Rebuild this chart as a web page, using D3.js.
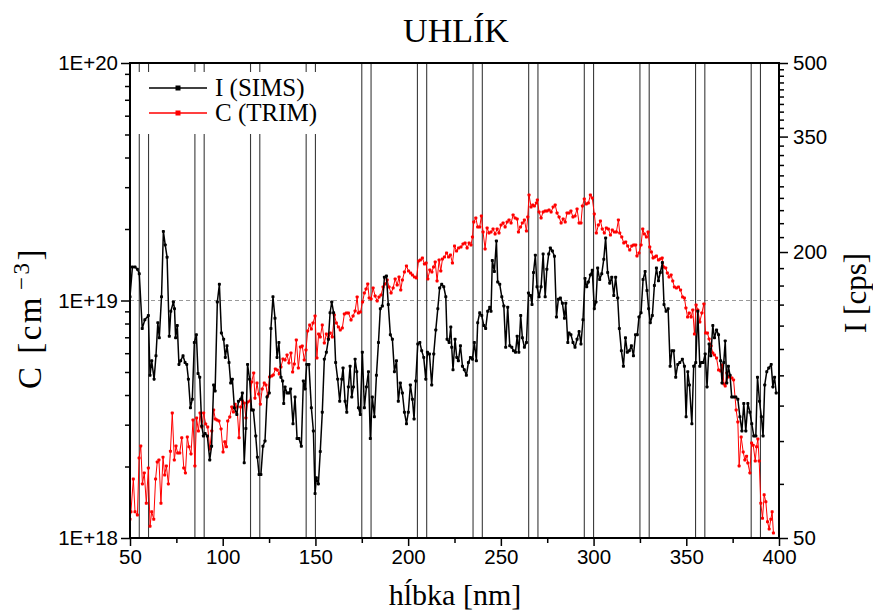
<!DOCTYPE html>
<html>
<head>
<meta charset="utf-8">
<script src="https://cdn.jsdelivr.net/npm/d3@7"></script>
<style>
  body { margin: 0; background: #fff; }
  svg { display: block; }
</style>
</head>
<body>
<svg id="chart" width="873" height="612"></svg>
<script>
// ---- data ----------------------------------------------------------------
const titleText = "UHLÍK";
const seriesNames = ["I (SIMS)", "C (TRIM)"];

const depthMajorTicks = [50, 100, 150, 200, 250, 300, 350, 400];
const depthMinorTicks = [75, 125, 175, 225, 275, 325, 375];
const concMajorTicks = [1e18, 1e19, 1e20];
const concTickLabels = ["1E+18", "1E+19", "1E+20"];
const countMajorTicks = [50, 200, 350, 500];
const countMinorStep = 15;

// depths of the vertical reference marks (nm)
const markDepths = [55, 60, 85, 90, 115, 120, 145, 150, 175, 180, 205, 210,
                    235, 240, 265, 270, 295, 300, 325, 330, 355, 360, 385, 390];
const refConcentration = 1e19;

// SIMS intensity profile: depth (nm) and counts per second
const simsDepth = [50,51.3,52.7,54,55,56.6,58,59.9,60.8,61.7,63,64,65,65.8,67,68,69,70,71.2,72,73.4,74,74.6,75.5,76.4,77.3,78.6,79.7,80.6,81.5,82.6,83.6,84.7,85.8,86.7,87.6,88.7,89.6,90.5,91.7,93,94,95.1,95.9,97.1,98.2,99.3,100.5,101.4,102.3,103.4,104.3,105.2,106.3,107.6,108.5,109.7,110.6,111.6,112.5,113.4,114.5,115.6,116.5,117.8,118.7,119.6,120.6,121.7,122.8,123.9,125.1,126,127.1,128.2,129.3,130.3,131.4,132.3,132.9,133.6,134.7,135.7,136.6,137.9,139,140.1,141.1,142.4,143.5,144.4,145.3,146.5,147.8,148.9,149.8,150.5,151.6,152.6,153.7,154.8,155.9,157,157.9,158.8,159.8,160.9,162,163.1,164.2,164.9,166,166.9,167.8,168.7,169.6,170.5,171.4,172.3,173.2,174.2,175.3,176.4,177.5,178.6,179.6,180.7,181.8,182.9,184,185,186.1,187.2,188.3,189.3,190.4,191.5,192.6,193.7,194.7,195.8,196.9,198,199.1,200.1,201.2,202.3,203.2,204.1,205.2,206.3,207.3,208.4,209.5,210.4,211.5,212.7,213.8,214.9,216,217,218.1,219.2,220.3,221,222.1,223,223.5,224.2,225.3,226.2,227.1,228.2,229.3,230.3,231.4,232.5,233.6,234.7,235.7,236.8,237.5,238.6,239.7,240.8,241.8,242.9,244,244.7,245.4,246.5,247.6,248.3,249.4,250.5,251.6,252.6,253.7,254.8,255.9,256.8,257.9,258.8,259.7,260.7,261.6,262.7,263.8,264.9,266,266.8,267.6,268.6,269.5,270.6,271.7,272.8,273.9,274.8,275.8,276.7,277.8,278.9,280,281,282.1,283.2,284.3,285,286.1,286.8,287.8,288.9,290,291.1,292.2,293.2,294.3,295.4,296.3,297.2,298.3,299.3,300.4,301.3,302.2,303.3,304.4,305.5,306.5,307.6,308.7,309.8,310.9,311.9,313,313.9,315,316.1,317.2,318.2,319.3,320.4,321.5,322.6,323.6,324.5,325.6,326.7,327.8,328.8,329.7,330.6,331.7,332.8,333.9,335,336,337.1,338,339.1,340.2,341.3,342.2,343.2,344.3,345.4,346.5,347.9,349,349.9,350.8,351.7,353,354,355.1,356.2,357.3,358.2,359.1,360.2,361.2,362.3,363.2,364.3,365.2,366.3,367.4,368.5,369.3,370.2,371,371.8,372.7,373.6,374.5,375.6,376.7,377.8,378.9,380,381,382.1,383.2,384.3,385.3,386.4,387.5,388.4,389.5,390.5,391.4,392.3,393.4,394.5,395.8,396.7,397.6,398.5];
const simsI = [161,186,186,184,180,138,144,147,110,118,108,121,142,132,161,221,207,195,133,150,157,152,132,140,116,118,121,117,116,108,94,98,129,134,111,109,86,82,83,82,73,78,105,102,157,171,135,131,120,127,117,106,108,94,91,97,98,101,72,85,116,108,93,93,82,74,68,68,78,80,99,101,138,161,145,120,129,109,107,96,104,101,101,103,87,99,81,81,78,107,103,116,116,94,84,62,67,65,76,92,119,123,131,149,157,149,117,108,97,108,114,97,92,104,115,99,104,119,112,94,91,123,94,104,112,81,99,90,110,129,152,154,177,178,155,134,131,112,118,97,106,101,92,87,92,105,98,89,107,128,129,124,120,108,123,122,105,122,137,152,168,171,169,161,131,129,139,126,113,131,120,118,127,115,113,110,117,120,119,129,118,142,149,147,140,138,150,153,150,192,182,211,173,171,161,154,126,153,127,126,124,123,133,123,147,132,126,129,164,162,155,181,197,169,161,169,198,161,184,198,204,201,196,146,159,160,156,145,156,129,135,134,129,126,131,136,128,144,176,169,173,179,183,152,157,185,175,180,193,214,181,172,177,162,177,160,138,124,115,132,123,124,127,121,134,134,146,149,175,182,166,152,142,147,170,185,174,181,190,155,150,152,115,124,124,109,116,117,119,115,90,112,105,87,115,117,150,115,117,117,122,104,128,121,140,132,137,134,118,106,117,130,106,115,110,99,99,99,98,90,84,96,84,96,92,87,82,82,109,97,90,82,105,112,114,116,104,109,101];

// TRIM concentration profile: depth (nm) and C in units of 1E+18 cm^-3
const trimDepth = [50,50.5,51.8,52.7,54,54.9,55.8,56.7,57.7,58.8,59.9,60.8,61.7,62.8,63.8,64.7,65.6,66.7,67.8,68.7,69.6,70.7,71.8,72.8,73.9,74.8,75.7,76.8,77.9,79,79.9,80.9,81.8,82.9,84,85,85.9,86.9,87.8,88.7,89.7,90.8,91.9,93,94.1,95.1,96,96.9,98,99.1,100.2,101.1,102,102.7,103.8,104.9,105.8,106.7,107.7,108.8,109.7,110.6,111.6,112.5,113.4,114.7,115.6,116.7,117.4,118.5,119.4,120.3,121.3,122.4,123.3,124.2,125.3,126.4,127.3,128.4,129.4,130.5,131.4,132.5,133.6,134.7,135.7,136.8,137.7,138.6,139.7,140.8,141.9,142.9,144,144.9,145.8,146.9,147.8,148.7,149.8,150.8,151.7,152.6,153.7,154.8,155.9,157,158,159.1,160.2,161.3,162.4,163.4,164.5,165.6,166.7,167.8,169.2,170.3,171.4,172.5,173.2,174.3,175.4,176.4,177.3,178.2,179,180,181.1,182.2,183.3,184.3,185.4,186.5,187.6,188.7,189.7,190.8,191.9,193,194.1,195.1,196,196.9,198,199.1,200.2,201.3,202.3,203.4,204.5,205.6,206.6,207.7,208.8,209.7,210.6,211.7,212.8,213.7,214.6,215.6,216.7,217.6,218.5,219.6,220.7,221.8,222.8,223.9,225,226.1,227.2,228.5,229.6,230.7,231.8,232.9,233.9,234.7,235.4,236.5,237.5,238.6,239.5,240.4,241.5,242.6,243.6,244.7,245.8,246.9,248,249,250.1,251.2,252.3,253.4,254.4,255.5,256.6,257.7,258.8,259.5,260.6,261.6,262.7,263.8,264.5,265.2,266.3,267.2,268.1,269.2,269.7,270.6,271.7,272.8,273.9,274.9,276,277.1,278.2,279.3,280.3,281.4,282.5,283.6,284.7,285.7,286.8,287.8,288.9,290,291.1,292.2,293.2,294,295,296.1,297.2,298.3,299.3,300.4,301.5,302.6,303.7,304.7,305.8,306.9,308,309.1,310.1,311.2,312.3,313.4,314.1,315.2,316.3,317.3,318.4,319.5,320.6,321.6,322.7,323.4,324.5,325.6,326.5,327.4,328.5,329.4,330.3,331.2,332.1,333,333.9,335,336,337,337.8,338.9,339.8,340.7,341.8,342.7,343.6,344.7,345.8,346.9,348,349,349.8,350.7,351.6,352.6,353.5,354.4,355.3,356.2,357.3,358.4,359.5,360.4,361.4,362.3,363.4,364.3,365.2,366.3,367.4,368.5,369.4,370.3,371,371.9,372.8,373.5,374.6,375.5,376.9,377.8,378.5,379.6,380.7,381.6,382.5,383.2,384.3,385.2,386.1,387.2,387.9,388.6,389.3,390.2,391.1,392,392.9,393.8,394.7,395.6,396.3,397];
const trimC = [1.20,1.29,1.77,1.29,1.25,2.17,2.44,1.69,1.88,1.40,1.97,1.12,1.29,1.20,1.77,2.09,2.13,1.40,2.19,1.84,2.01,1.69,2.32,3.36,2.13,2.44,2.28,2.28,2.64,1.97,1.88,2.66,2.42,2.26,3.14,2.01,3.20,2.82,3.36,2.93,3.36,3.02,2.93,2.37,2.82,3.46,3.17,3.14,3.11,2.88,2.30,2.54,2.42,3.11,3.23,3.56,3.39,3.66,3.56,2.64,3.56,3.77,3.70,3.20,3.74,3.77,4.54,4.95,3.88,4.49,4.04,3.66,4.24,4.49,4.41,3.96,4.76,4.81,4.86,5.15,5.10,4.90,5.25,5.67,5.62,5.90,5.46,6.01,5.00,5.40,6.82,5.20,6.37,6.43,5.62,6.19,7.44,7.88,7.58,8.04,8.60,5.73,7.22,7.02,7.88,6.62,7.22,6.88,7.30,7.02,8.69,8.04,7.73,7.51,7.66,8.77,8.86,8.86,8.28,8.60,9.03,10.35,8.86,8.94,9.86,10.75,11.18,11.74,10.25,10.15,11.29,10.45,9.95,10.35,10.55,11.40,11.74,12.20,11.40,10.75,11.29,12.32,11.62,12.56,11.07,12.20,13.18,13.97,13.31,13.05,12.80,12.56,12.44,14.67,14.81,15.10,14.25,14.39,12.32,13.44,13.18,13.84,14.53,12.08,14.81,13.31,14.95,15.25,15.85,15.25,15.55,14.39,16.97,16.16,16.64,16.80,17.30,17.46,16.64,17.46,17.13,18.51,21.40,22.25,20.39,20.39,22.68,19.43,16.48,20.20,19.24,19.43,20.00,19.06,20.00,19.24,20.79,21.19,20.39,21.40,21.82,21.19,22.90,22.25,22.03,19.43,20.39,21.19,21.82,19.62,22.46,27.81,24.76,25.25,25.00,25.73,26.49,23.59,22.25,23.59,23.82,23.82,24.05,23.59,24.76,25.25,23.36,22.46,21.19,22.03,21.40,23.36,23.36,23.82,22.46,22.68,24.28,21.19,21.19,25.00,26.75,25.48,25.73,27.81,27.01,23.13,19.24,20.79,21.61,20.00,19.24,20.20,20.00,18.87,19.81,19.43,19.43,21.82,19.24,18.51,17.46,17.63,16.97,16.32,16.97,17.13,17.13,15.40,15.85,17.13,20.00,19.06,18.51,19.43,16.80,16.01,15.10,15.25,15.40,14.81,14.95,15.10,13.84,13.70,13.05,12.56,12.80,12.08,11.40,11.29,11.40,11.07,10.35,10.25,9.30,8.52,8.86,8.52,9.12,7.22,9.57,9.12,8.12,8.86,9.67,7.30,7.30,6.88,6.43,6.01,5.90,5.73,5.10,5.05,5.35,4.45,4.36,4.95,4.76,4.81,4.72,4.63,3.46,3.08,2.01,2.66,2.30,2.13,2.21,2.07,1.88,2.51,2.46,2.11,2.42,2.61,2.11,1.40,1.21,1.52,1.42,1.17,1.09,1.20,1.29,1.05];
const trimUnit = 1e18;

// ---- layout --------------------------------------------------------------
const plot = { left: 130, right: 779, top: 63, bottom: 538 };
const labelFont = "'Liberation Sans', Arial, sans-serif";
const serifFont = "'Liberation Serif', 'Times New Roman', serif";

const svg = d3.select("#chart");

const x = d3.scaleLinear().domain([50, 400]).range([plot.left, plot.right]);
const yC = d3.scaleLog().domain([1e18, 1e20]).range([plot.bottom, plot.top]);
const yI = d3.scaleLog().domain([50, 500]).range([plot.bottom, plot.top]);

svg.append("defs").append("clipPath").attr("id", "plotClip")
  .append("rect")
  .attr("x", plot.left).attr("y", plot.top)
  .attr("width", plot.right - plot.left).attr("height", plot.bottom - plot.top);

// dashed reference level
svg.append("line")
  .attr("x1", plot.left).attr("x2", plot.right)
  .attr("y1", yC(refConcentration)).attr("y2", yC(refConcentration))
  .attr("stroke", "#9a9a9a").attr("stroke-width", 1)
  .attr("stroke-dasharray", "4,3");

// vertical marks
svg.append("g").selectAll("line").data(markDepths).join("line")
  .attr("x1", d => x(d)).attr("x2", d => x(d))
  .attr("y1", plot.top).attr("y2", plot.bottom)
  .attr("stroke", "#3a3a3a").attr("stroke-width", 1.1);

// ---- series --------------------------------------------------------------
const dataArea = svg.append("g").attr("clip-path", "url(#plotClip)");

const trimPts = trimDepth.map((d, i) => [x(d), yC(trimC[i] * trimUnit)]);
const simsPts = simsDepth.map((d, i) => [x(d), yI(simsI[i])]);

function drawSeries(pts, color, lw, ms) {
  const g = dataArea.append("g");
  g.append("path")
    .attr("d", d3.line()(pts))
    .attr("fill", "none").attr("stroke", color)
    .attr("stroke-width", lw).attr("stroke-linejoin", "round");
  g.selectAll("rect").data(pts).join("rect")
    .attr("x", p => p[0] - ms / 2).attr("y", p => p[1] - ms / 2)
    .attr("width", ms).attr("height", ms)
    .attr("rx", 0.8)
    .attr("fill", color);
}
drawSeries(trimPts, "#ff0000", 1, 3);
drawSeries(simsPts, "#000000", 1.5, 3);

// ---- legend --------------------------------------------------------------
const legend = svg.append("g");
legend.append("rect")
  .attr("x", 133).attr("y", 72).attr("width", 196).attr("height", 62)
  .attr("fill", "#fff");
const legendItems = [
  { name: seriesNames[0], color: "#000", y: 88 },
  { name: seriesNames[1], color: "#ff0000", y: 113 }
];
legendItems.forEach(it => {
  legend.append("line")
    .attr("x1", 149).attr("x2", 207).attr("y1", it.y).attr("y2", it.y)
    .attr("stroke", it.color).attr("stroke-width", 1.5);
  legend.append("rect")
    .attr("x", 178 - 2.5).attr("y", it.y - 2.5).attr("width", 5).attr("height", 5)
    .attr("fill", it.color);
  legend.append("text")
    .attr("x", 215).attr("y", it.y + 8)
    .attr("font-family", serifFont).attr("font-size", 25)
    .attr("fill", "#000").text(it.name);
});

// ---- axes ----------------------------------------------------------------
function styleAxis(g) {
  g.select(".domain").remove();
  g.selectAll(".tick line").attr("stroke", "#000").attr("stroke-width", 1.5);
  g.selectAll(".tick text")
    .attr("font-family", labelFont).attr("font-size", 20.5).attr("fill", "#000");
}

// bottom
svg.append("g").attr("transform", `translate(0,${plot.bottom})`)
  .call(d3.axisBottom(x).tickValues(depthMinorTicks).tickSize(5).tickFormat(""))
  .call(styleAxis);
svg.append("g").attr("transform", `translate(0,${plot.bottom})`)
  .call(d3.axisBottom(x).tickValues(depthMajorTicks).tickSize(8).tickPadding(3).tickFormat(d3.format("d")))
  .call(styleAxis);

// left (log concentration)
const concMinor = [];
[1e18, 1e19].forEach(dec => { for (let k = 2; k <= 9; k++) concMinor.push(k * dec); });
svg.append("g").attr("transform", `translate(${plot.left},0)`)
  .call(d3.axisLeft(yC).tickValues(concMinor).tickSize(5).tickFormat(""))
  .call(styleAxis);
svg.append("g").attr("transform", `translate(${plot.left},0)`)
  .call(d3.axisLeft(yC).tickValues(concMajorTicks).tickSize(9).tickPadding(3)
        .tickFormat((d, i) => concTickLabels[i]))
  .call(styleAxis);

// right (log intensity)
const countMinor = d3.range(50, 500, countMinorStep).filter(v => !countMajorTicks.includes(v));
svg.append("g").attr("transform", `translate(${plot.right},0)`)
  .call(d3.axisRight(yI).tickValues(countMinor).tickSize(5).tickFormat(""))
  .call(styleAxis);
svg.append("g").attr("transform", `translate(${plot.right},0)`)
  .call(d3.axisRight(yI).tickValues(countMajorTicks).tickSize(9).tickPadding(5).tickFormat(d3.format("d")))
  .call(styleAxis);

// frame
svg.append("rect")
  .attr("x", plot.left).attr("y", plot.top)
  .attr("width", plot.right - plot.left).attr("height", plot.bottom - plot.top)
  .attr("fill", "none").attr("stroke", "#000").attr("stroke-width", 2);

// ---- titles --------------------------------------------------------------
svg.append("text")
  .attr("x", 456).attr("y", 42).attr("text-anchor", "middle")
  .attr("font-family", serifFont).attr("font-size", 34).attr("fill", "#000")
  .text(titleText);

svg.append("text")
  .attr("x", 455).attr("y", 605).attr("text-anchor", "middle")
  .attr("font-family", serifFont).attr("font-size", 30).attr("fill", "#000")
  .text("hĺbka [nm]");

const yTitle = svg.append("text")
  .attr("transform", "translate(41,318) rotate(-90)")
  .attr("text-anchor", "middle")
  .attr("font-family", serifFont).attr("font-size", 33).attr("fill", "#000")
  .attr("letter-spacing", 2.5);
yTitle.append("tspan").text("C [cm");
yTitle.append("tspan").attr("dx", 5).attr("dy", -12).attr("font-size", 23).text("−3");
yTitle.append("tspan").attr("dy", 12).text("]");

svg.append("text")
  .attr("transform", "translate(866,293) rotate(-90)")
  .attr("text-anchor", "middle")
  .attr("font-family", serifFont).attr("font-size", 31).attr("fill", "#000")
  .text("I [cps]");
</script>
</body>
</html>
